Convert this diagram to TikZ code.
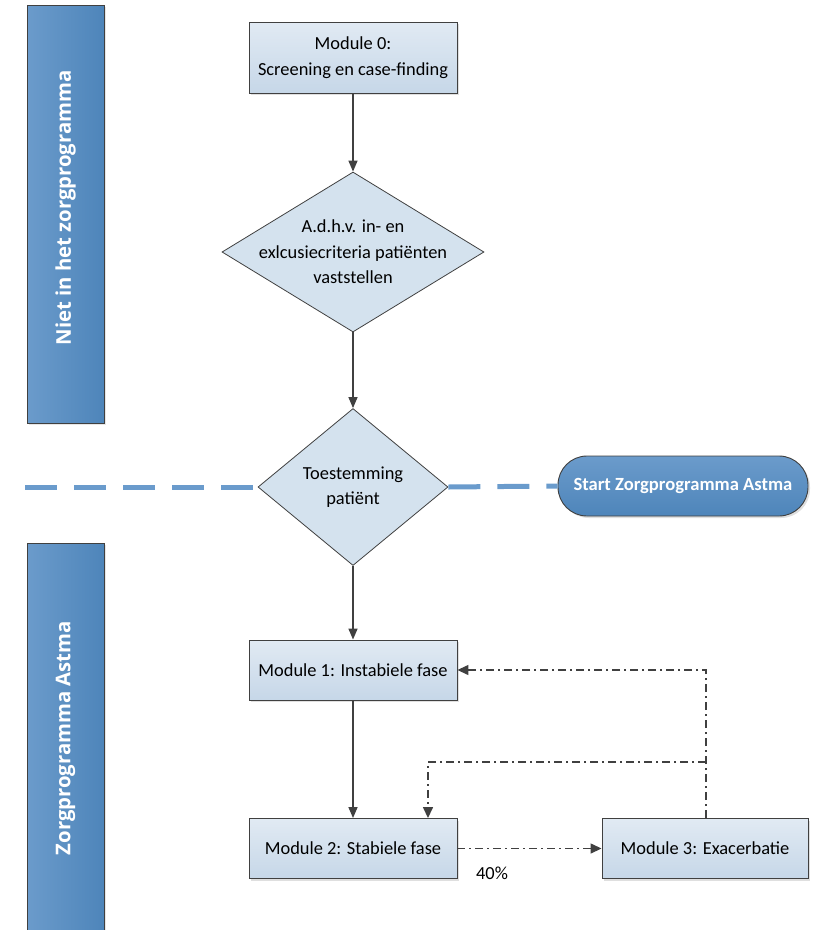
\documentclass[tikz,border=0pt]{standalone}
\usepackage{fontspec}
\setmainfont{Carlito}
\newfontfamily\bandfont{Open Sans}
\usetikzlibrary{shapes.geometric,arrows.meta,shadows}
\definecolor{boxtop}{HTML}{E1EAF3}
\definecolor{boxbot}{HTML}{C6D7E8}
\definecolor{diafill}{HTML}{D4E2EE}
\definecolor{bandL}{HTML}{6B9BCB}
\definecolor{bandR}{HTML}{4E85BA}
\definecolor{edge}{HTML}{404040}
\definecolor{dashblue}{HTML}{6A9BCC}
\tikzset{
  procbox/.style={rectangle, draw=edge, line width=0.9pt, top color=boxtop, bottom color=boxbot,
    minimum width=208pt, minimum height=60pt, inner sep=2pt, align=center, font=\fontsize{18.4}{26}\selectfont,
    drop shadow={shadow xshift=2pt, shadow yshift=-2pt, opacity=0.25, fill=gray}},
  decision/.style={diamond, draw=edge, line width=0.8pt, fill=diafill, inner sep=0pt},
  dtext/.style={align=center, font=\fontsize{18.4}{25.5}\selectfont, inner sep=0pt},
  band/.style={rectangle, draw=edge, line width=1pt, left color=bandL, right color=bandR,
    drop shadow={shadow xshift=2pt, shadow yshift=-2pt, opacity=0.2, fill=gray}},
  bandtext/.style={text=white, font=\bandfont\bfseries\fontsize{20.3}{24}\selectfont, rotate=90},
  flow/.style={draw=edge, line width=1.4pt, -{Triangle[length=11pt,width=9pt]}},
  dashdot/.style={draw=edge, line width=1.4pt, dash pattern=on 8pt off 4pt on 2pt off 4pt},
  dashdotarrow/.style={dashdot, -{Triangle[length=11pt,width=10pt]}},
  sepline/.style={draw=dashblue, line width=5pt, dash pattern=on 32pt off 17pt},
}
\begin{document}
\begin{tikzpicture}[x=1pt,y=-1pt]
\useasboundingbox (0,0) rectangle (820,930);
% side bands
\node[band, minimum width=77pt, minimum height=418pt, inner sep=0pt] (bandtop) at (65.5,214) {};
\node[bandtext] (bandtoptxt) at (65.5,208) {Niet in het zorgprogramma};
\begin{scope}
\clip (0,0) rectangle (820,930);
\node[band, minimum width=77pt, minimum height=400pt, inner sep=0pt] (bandbot) at (65.5,743) {};
\end{scope}
\node[bandtext] (bandbottxt) at (65.5,738) {Zorgprogramma Astma};

% nodes
\node[procbox, minimum height=71pt] (m0) at (353,57.5) {Module 0:\\Screening en case-finding};
\node[decision, minimum width=262pt, minimum height=160pt] (d1) at (353,252) {};
\node[dtext] (d1t) at (353,252) {A.d.h.v. in- en\\exlcusiecriteria patiënten\\vaststellen};
\node[decision, minimum width=190pt, minimum height=157pt] (d2) at (353,487) {};
\node[dtext] (d2t) at (353,487) {Toestemming\\patiënt};
\node[rectangle, rounded corners=29pt, draw=edge, line width=0.9pt, top color=bandL, bottom color=bandR,
  minimum width=250pt, minimum height=60pt, text=white, font=\bfseries\fontsize{18.6}{22}\selectfont,
  drop shadow={shadow xshift=2pt, shadow yshift=-2pt, opacity=0.25, fill=gray}] (start) at (683,486) {Start Zorgprogramma Astma};
\node[procbox] (m1) at (353,670) {Module 1: Instabiele fase};
\node[procbox] (m2) at (353,848.5) {Module 2: Stabiele fase};
\node[procbox, minimum width=206pt] (m3) at (705,848.5) {Module 3: Exacerbatie};
\node[font=\fontsize{18.4}{22}\selectfont] (pct) at (492,873) {40\%};

% separator
\coordinate (sepL) at (25,487);
\draw[sepline] (sepL) -- (d2.west);
\draw[sepline] (d2.east) -- (start.west);

% flow
\draw[flow] (m0) -- (d1);
\draw[flow] (d1) -- (d2);
\draw[flow] (d2) -- (m1);
\draw[flow] (m1) -- (m2);
\draw[dashdotarrow] (m2) -- (m3);
\coordinate (turn) at (706,670);
\coordinate (junc) at (706,762);
\coordinate (down) at (428,762);
\draw[dashdotarrow] (m3.north -| turn) -- (turn) -- (m1.east);
\draw[dashdotarrow] (junc) -- (down) -- (down |- m2.north);
\end{tikzpicture}
\end{document}
